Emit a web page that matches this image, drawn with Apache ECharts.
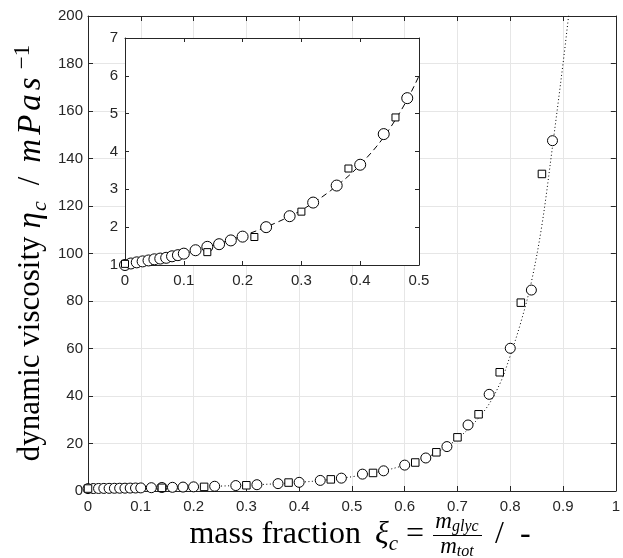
<!DOCTYPE html>
<html>
<head>
<meta charset="utf-8">
<script src="https://cdn.jsdelivr.net/npm/echarts@6/dist/echarts.min.js"></script>
<style>
  html, body { margin: 0; padding: 0; background: #fff; }
  #chart { width: 623px; height: 558px; }
</style>
</head>
<body>
<div id="chart"></div>
<script>
// 测量点 (圆圈)
var circleX = [0, 0.01, 0.02, 0.03, 0.04, 0.05, 0.06, 0.07, 0.08, 0.09, 0.10,
    0.12, 0.14, 0.16, 0.18, 0.20, 0.24, 0.28, 0.32, 0.36, 0.40, 0.44, 0.48,
    0.52, 0.56, 0.60, 0.64, 0.68, 0.72, 0.76, 0.80, 0.84, 0.88];
var circleY = [1.0, 1.04, 1.07, 1.095, 1.12, 1.15, 1.17, 1.19, 1.23, 1.26, 1.30,
    1.39, 1.48, 1.55, 1.65, 1.75, 2.00, 2.29, 2.65, 3.10, 3.65, 4.46, 5.41,
    7.1, 8.5, 10.9, 13.9, 18.7, 27.8, 40.7, 60.1, 84.6, 147.5];

// 测量点 (方块)
var squareX = [0, 0.14, 0.22, 0.30, 0.38, 0.46, 0.54, 0.62, 0.66, 0.70, 0.74, 0.78, 0.82, 0.86];
var squareY = [1.03, 1.34, 1.74, 2.41, 3.55, 4.90, 7.6, 12.0, 16.3, 22.6, 32.3, 50.0, 79.3, 133.5];

// 拟合曲线
var fitX = [0, 0.05, 0.1, 0.15, 0.2, 0.25, 0.3, 0.35, 0.4, 0.45, 0.5, 0.55, 0.6,
    0.65, 0.7, 0.75, 0.78, 0.8, 0.82, 0.84, 0.86, 0.88, 0.9, 0.912];
var fitY = [0.97, 1.13, 1.3, 1.52, 1.77, 2.07, 2.45, 2.97, 3.65, 4.6, 6.0, 8.0, 10.9,
    15.0, 22.0, 33.5, 45.0, 57.0, 71.0, 88.0, 112.0, 145.0, 180.0, 203.0];

function pairs(xs, ys) {
    return xs.map(function (x, i) { return [x, ys[i]]; });
}

var axisColor = '#262626';
var tickFont = { color: axisColor, fontSize: 15, fontFamily: 'Liberation Sans' };
var serif = 'Liberation Serif';

// 坐标轴 (主图 + 内嵌图, 四边都有刻度)
function makeAxis(gridIndex, pos, min, max, interval, opts) {
    return {
        type: 'value', gridIndex: gridIndex, position: pos,
        min: min, max: max, interval: interval,
        axisLine: { show: true, onZero: false, lineStyle: { color: axisColor, width: 1 } },
        axisTick: { show: true, inside: true, length: opts.tick, lineStyle: { color: axisColor } },
        axisLabel: opts.label ? Object.assign({ margin: opts.margin }, tickFont) : { show: false },
        splitLine: opts.split ? { show: true, lineStyle: { color: '#e6e6e6', width: 1 } } : { show: false },
        z: opts.z || 0
    };
}

// 斜体字母 (数学公式风格, 字母间距宽一点)
function mi(pad) {
    return { fontFamily: serif, fontSize: 33, fontStyle: 'italic', lineHeight: 40, verticalAlign: 'middle', padding: pad };
}

var myChart = echarts.init(document.getElementById('chart'));

var option = {
    animation: false,
    backgroundColor: '#fff',
    grid: [
        { left: 88, top: 16, width: 533, height: 475 },
        { left: 125, top: 38, width: 294, height: 227, show: true, backgroundColor: '#fff', borderWidth: 0, z: 1 }
    ],
    xAxis: [
        makeAxis(0, 'bottom', 0, 1, 0.1, { tick: 5, label: true, margin: 8, split: true }),
        makeAxis(0, 'top', 0, 1, 0.1, { tick: 5 }),
        makeAxis(1, 'bottom', 0, 0.5, 0.1, { tick: 4, label: true, margin: 8, z: 3 }),
        makeAxis(1, 'top', 0, 0.5, 0.1, { tick: 4, z: 3 })
    ],
    yAxis: [
        makeAxis(0, 'left', 0, 200, 20, { tick: 5, label: true, margin: 5, split: true }),
        makeAxis(0, 'right', 0, 200, 20, { tick: 5 }),
        makeAxis(1, 'left', 1, 7, 1, { tick: 4, label: true, margin: 7, z: 3 }),
        makeAxis(1, 'right', 1, 7, 1, { tick: 4, z: 3 })
    ],
    series: [
        {
            type: 'line', xAxisIndex: 0, yAxisIndex: 0,
            data: pairs(fitX, fitY),
            showSymbol: false, smooth: 0.35, clip: true,
            lineStyle: { color: '#000', width: 1, type: [1, 2.5] },
            z: 2
        },
        {
            type: 'scatter', xAxisIndex: 0, yAxisIndex: 0,
            data: pairs(circleX, circleY),
            symbol: 'circle', symbolSize: 10,
            itemStyle: { color: '#fff', borderColor: '#000', borderWidth: 1, opacity: 1 },
            z: 3
        },
        {
            type: 'scatter', xAxisIndex: 0, yAxisIndex: 0,
            data: pairs(squareX, squareY),
            symbol: 'rect', symbolSize: 7.5,
            itemStyle: { color: '#fff', borderColor: '#000', borderWidth: 1, opacity: 1 },
            z: 3
        },
        {
            type: 'line', xAxisIndex: 2, yAxisIndex: 2,
            data: pairs(fitX, fitY),
            showSymbol: false, smooth: 0.35, clip: true,
            lineStyle: { color: '#000', width: 1, type: [6, 4] },
            z: 4
        },
        {
            type: 'scatter', xAxisIndex: 2, yAxisIndex: 2,
            data: pairs(circleX, circleY),
            symbol: 'circle', symbolSize: 11, clip: true,
            itemStyle: { color: '#fff', borderColor: '#000', borderWidth: 1, opacity: 1 },
            z: 5
        },
        {
            type: 'scatter', xAxisIndex: 2, yAxisIndex: 2,
            data: pairs(squareX, squareY),
            symbol: 'rect', symbolSize: 7, clip: true,
            itemStyle: { color: '#fff', borderColor: '#000', borderWidth: 1, opacity: 1 },
            z: 5
        }
    ],
    graphic: [
        // y轴标题
        {
            type: 'text', x: 31, y: 253, rotation: Math.PI / 2, z: 10,
            style: {
                text: '{r|dynamic viscosity}{eta|η}{s|c}{sl|/}{m|m}{m|P}{m|a}{m|s}{p|−1}',
                align: 'center', verticalAlign: 'middle', fill: '#000',
                rich: {
                    r: { fontFamily: serif, fontSize: 31, lineHeight: 40, verticalAlign: 'middle' },
                    eta: mi([0, 1, 0, 8]),
                    s: { fontFamily: serif, fontSize: 22, fontStyle: 'italic', lineHeight: 18, verticalAlign: 'bottom', padding: [0, 2, 0, 0] },
                    sl: { fontFamily: serif, fontSize: 31, lineHeight: 40, verticalAlign: 'middle', padding: [0, 12, 0, 14] },
                    m: mi([0, 2]),
                    p: { fontFamily: serif, fontSize: 23, lineHeight: 18, verticalAlign: 'top', padding: [0, 0, 0, 6] }
                }
            }
        },
        // x轴标题: 左边部分
        {
            type: 'text', x: 424, y: 535, z: 10,
            style: {
                text: '{r|mass fraction}{i|ξ}{s|c}{e|=}',
                align: 'right', verticalAlign: 'middle', fill: '#000',
                rich: {
                    r: { fontFamily: serif, fontSize: 32, lineHeight: 40, verticalAlign: 'middle' },
                    i: { fontFamily: serif, fontSize: 32, fontStyle: 'italic', lineHeight: 40, verticalAlign: 'middle', padding: [0, 0, 0, 14] },
                    s: { fontFamily: serif, fontSize: 21, fontStyle: 'italic', lineHeight: 18, verticalAlign: 'bottom' },
                    e: { fontFamily: serif, fontSize: 32, lineHeight: 40, verticalAlign: 'middle', padding: [0, 0, 0, 8] }
                }
            }
        },
        // 分数
        {
            type: 'text', x: 457, y: 522, z: 10,
            style: {
                text: '{i|m}{s|glyc}', align: 'center', verticalAlign: 'middle', fill: '#000',
                rich: {
                    i: { fontFamily: serif, fontSize: 23, fontStyle: 'italic', lineHeight: 26, verticalAlign: 'middle' },
                    s: { fontFamily: serif, fontSize: 16, fontStyle: 'italic', lineHeight: 12, verticalAlign: 'bottom' }
                }
            }
        },
        {
            type: 'line', z: 10,
            shape: { x1: 433, y1: 535.5, x2: 482, y2: 535.5 },
            style: { stroke: '#000', lineWidth: 1 }
        },
        {
            type: 'text', x: 457, y: 547, z: 10,
            style: {
                text: '{i|m}{s|tot}', align: 'center', verticalAlign: 'middle', fill: '#000',
                rich: {
                    i: { fontFamily: serif, fontSize: 23, fontStyle: 'italic', lineHeight: 26, verticalAlign: 'middle' },
                    s: { fontFamily: serif, fontSize: 16, fontStyle: 'italic', lineHeight: 12, verticalAlign: 'bottom' }
                }
            }
        },
        // x轴标题: 右边部分
        {
            type: 'text', x: 495, y: 535, z: 10,
            style: {
                text: '/  -', align: 'left', verticalAlign: 'middle', fill: '#000',
                font: '32px "Liberation Serif"'
            }
        }
    ]
};

myChart.setOption(option);
window.addEventListener("resize", function () {
    myChart.resize();
});
</script>
</body>
</html>
